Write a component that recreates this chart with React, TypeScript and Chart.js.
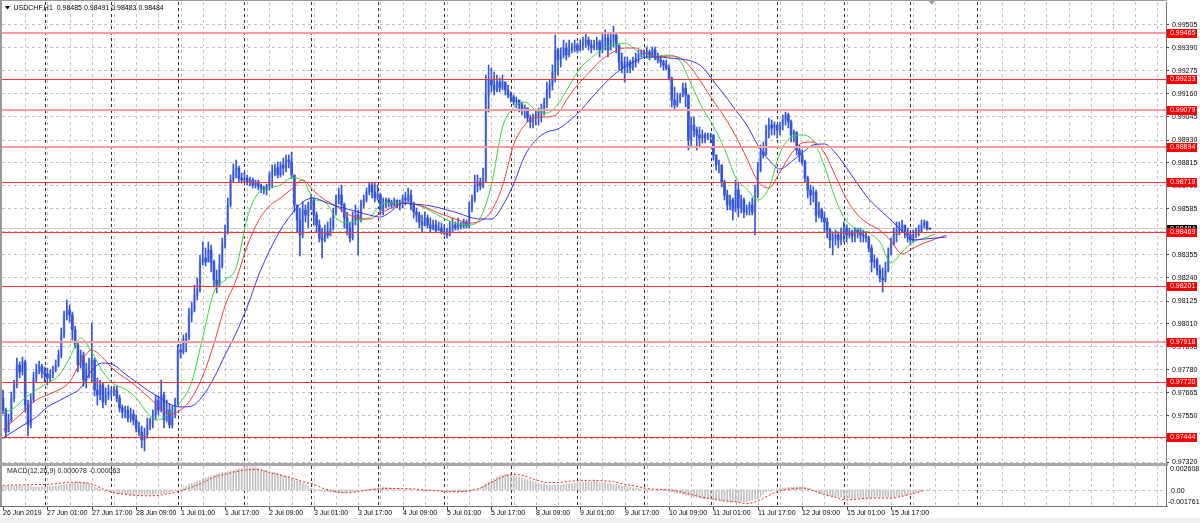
import React, { useEffect, useRef } from "react";
import { Chart, registerables } from "chart.js";

Chart.register(...registerables);

// ---------------- data ----------------
const symbolTitle = "USDCHF,H1";
const lastBarOHLC = ["0.98485", "0.98491", "0.98483", "0.98484"];
const firstOpen = 0.9764;

// hourly bars, 26 Jun 2019 09:00 -> 16 Jul 2019 07:00
const closes = [
  0.97580,0.97470,0.97530,0.97640,0.97705,0.97805,0.97770,0.97820,0.97605,0.97505,
  0.97630,0.97740,0.97780,0.97800,0.97770,0.97760,0.97740,0.97755,0.97780,0.97805,
  0.97855,0.97955,0.98055,0.98080,0.98055,0.97980,0.97905,0.97805,0.97855,0.97730,
  0.97780,0.97805,0.97830,0.97680,0.97655,0.97705,0.97620,0.97655,0.97670,0.97670,
  0.97680,0.97640,0.97590,0.97570,0.97580,0.97540,0.97560,0.97530,0.97490,0.97470,
  0.97430,0.97455,0.97505,0.97530,0.97555,0.97630,0.97580,0.97655,0.97530,0.97580,
  0.97505,0.97555,0.97605,0.97880,0.97870,0.97930,0.97940,0.98055,0.98080,0.98155,
  0.98180,0.98320,0.98340,0.98320,0.98380,0.98320,0.98230,0.98205,0.98305,0.98405,
  0.98470,0.98605,0.98730,0.98780,0.98790,0.98740,0.98730,0.98740,0.98720,0.98730,
  0.98705,0.98720,0.98700,0.98690,0.98680,0.98700,0.98755,0.98770,0.98790,0.98755,
  0.98805,0.98790,0.98830,0.98820,0.98755,0.98605,0.98530,0.98455,0.98580,0.98555,
  0.98605,0.98630,0.98555,0.98505,0.98440,0.98430,0.98470,0.98455,0.98490,0.98570,
  0.98630,0.98655,0.98605,0.98540,0.98490,0.98440,0.98530,0.98555,0.98530,0.98605,
  0.98630,0.98670,0.98705,0.98670,0.98640,0.98655,0.98580,0.98605,0.98630,0.98620,
  0.98605,0.98630,0.98605,0.98615,0.98640,0.98630,0.98655,0.98605,0.98570,0.98555,
  0.98520,0.98505,0.98540,0.98505,0.98490,0.98505,0.98480,0.98490,0.98470,0.98470,
  0.98455,0.98490,0.98505,0.98490,0.98510,0.98500,0.98520,0.98500,0.98590,0.98630,
  0.98705,0.98720,0.98700,0.98740,0.99155,0.99230,0.99205,0.99180,0.99220,0.99190,
  0.99220,0.99180,0.99155,0.99145,0.99120,0.99130,0.99105,0.99080,0.99090,0.99040,
  0.99020,0.99040,0.99055,0.99070,0.99090,0.99120,0.99180,0.99205,0.99270,0.99380,
  0.99330,0.99355,0.99390,0.99355,0.99380,0.99390,0.99405,0.99380,0.99405,0.99420,
  0.99430,0.99405,0.99390,0.99405,0.99420,0.99380,0.99430,0.99440,0.99380,0.99430,
  0.99455,0.99405,0.99320,0.99290,0.99305,0.99320,0.99290,0.99320,0.99340,0.99355,
  0.99365,0.99360,0.99370,0.99355,0.99380,0.99350,0.99330,0.99320,0.99305,0.99290,
  0.99240,0.99130,0.99105,0.99130,0.99155,0.99190,0.99155,0.98930,0.99005,0.98980,
  0.98955,0.98940,0.98955,0.98940,0.98950,0.98955,0.98855,0.98805,0.98805,0.98720,
  0.98655,0.98605,0.98630,0.98580,0.98680,0.98590,0.98630,0.98570,0.98580,0.98605,
  0.98570,0.98655,0.98780,0.98870,0.98855,0.98980,0.99005,0.98990,0.99005,0.98980,
  0.99005,0.99030,0.99055,0.99020,0.98955,0.98970,0.98880,0.98855,0.98820,0.98740,
  0.98680,0.98655,0.98670,0.98555,0.98580,0.98540,0.98520,0.98480,0.98430,0.98440,
  0.98455,0.98430,0.98470,0.98490,0.98455,0.98470,0.98450,0.98480,0.98470,0.98455,
  0.98450,0.98440,0.98390,0.98320,0.98330,0.98280,0.98240,0.98230,0.98280,0.98355,
  0.98405,0.98455,0.98480,0.98490,0.98505,0.98470,0.98455,0.98430,0.98455,0.98470,
  0.98480,0.98505,0.98520,0.98485,0.98484,
];

const highs = [
  0.97680,0.97590,0.97560,0.97670,0.97730,0.97840,0.97820,0.97845,0.97830,0.97630,
  0.97660,0.97770,0.97810,0.97825,0.97810,0.97795,0.97790,0.97780,0.97800,0.97830,
  0.97880,0.97990,0.98075,0.98130,0.98105,0.98070,0.98000,0.97920,0.97880,0.97870,
  0.97815,0.97840,0.98015,0.97840,0.97740,0.97730,0.97715,0.97690,0.97705,0.97690,
  0.97700,0.97700,0.97655,0.97605,0.97600,0.97600,0.97590,0.97580,0.97555,0.97520,
  0.97500,0.97490,0.97540,0.97540,0.97580,0.97655,0.97650,0.97730,0.97670,0.97630,
  0.97610,0.97600,0.97640,0.97905,0.97910,0.97955,0.97965,0.98090,0.98120,0.98205,
  0.98240,0.98355,0.98420,0.98390,0.98420,0.98405,0.98330,0.98280,0.98355,0.98440,
  0.98505,0.98640,0.98755,0.98810,0.98830,0.98800,0.98765,0.98770,0.98755,0.98745,
  0.98740,0.98730,0.98730,0.98710,0.98700,0.98710,0.98770,0.98805,0.98810,0.98820,
  0.98820,0.98840,0.98855,0.98855,0.98870,0.98755,0.98605,0.98590,0.98620,0.98605,
  0.98620,0.98655,0.98640,0.98570,0.98530,0.98490,0.98505,0.98520,0.98540,0.98590,
  0.98655,0.98690,0.98705,0.98615,0.98570,0.98520,0.98570,0.98605,0.98580,0.98630,
  0.98655,0.98690,0.98720,0.98720,0.98720,0.98705,0.98665,0.98640,0.98640,0.98640,
  0.98630,0.98640,0.98630,0.98630,0.98655,0.98670,0.98690,0.98680,0.98620,0.98590,
  0.98570,0.98555,0.98570,0.98555,0.98540,0.98530,0.98530,0.98520,0.98515,0.98505,
  0.98490,0.98520,0.98540,0.98520,0.98540,0.98520,0.98535,0.98530,0.98620,0.98655,
  0.98755,0.98755,0.98740,0.98790,0.99255,0.99305,0.99290,0.99270,0.99255,0.99240,
  0.99255,0.99220,0.99205,0.99170,0.99155,0.99145,0.99130,0.99120,0.99105,0.99090,
  0.99055,0.99060,0.99080,0.99090,0.99110,0.99140,0.99220,0.99230,0.99305,0.99455,
  0.99390,0.99390,0.99430,0.99415,0.99430,0.99415,0.99430,0.99415,0.99430,0.99445,
  0.99465,0.99445,0.99430,0.99430,0.99445,0.99430,0.99465,0.99480,0.99465,0.99465,
  0.99500,0.99465,0.99405,0.99365,0.99345,0.99345,0.99330,0.99345,0.99365,0.99380,
  0.99380,0.99380,0.99395,0.99380,0.99395,0.99395,0.99365,0.99345,0.99330,0.99330,
  0.99305,0.99245,0.99195,0.99165,0.99165,0.99215,0.99215,0.99155,0.99045,0.99045,
  0.98995,0.98995,0.98980,0.98965,0.98965,0.98965,0.98955,0.98855,0.98830,0.98805,
  0.98730,0.98680,0.98655,0.98640,0.98730,0.98715,0.98655,0.98640,0.98605,0.98620,
  0.98640,0.98705,0.98820,0.98905,0.98920,0.99005,0.99040,0.99030,0.99020,0.99005,
  0.99020,0.99055,0.99070,0.99065,0.99030,0.98980,0.98970,0.98905,0.98880,0.98830,
  0.98750,0.98705,0.98695,0.98680,0.98620,0.98590,0.98570,0.98540,0.98490,0.98470,
  0.98480,0.98470,0.98490,0.98520,0.98505,0.98490,0.98480,0.98490,0.98490,0.98490,
  0.98480,0.98470,0.98450,0.98405,0.98355,0.98340,0.98305,0.98290,0.98320,0.98390,
  0.98440,0.98490,0.98520,0.98520,0.98530,0.98505,0.98490,0.98470,0.98480,0.98490,
  0.98505,0.98530,0.98530,0.98525,0.98491,
];

const lows = [
  0.97560,0.97440,0.97470,0.97520,0.97620,0.97690,0.97740,0.97755,0.97570,0.97450,
  0.97490,0.97620,0.97720,0.97760,0.97740,0.97720,0.97705,0.97720,0.97740,0.97770,
  0.97795,0.97840,0.97940,0.98030,0.98020,0.97930,0.97890,0.97770,0.97790,0.97700,
  0.97690,0.97740,0.97720,0.97650,0.97605,0.97630,0.97590,0.97605,0.97630,0.97640,
  0.97650,0.97620,0.97570,0.97540,0.97540,0.97520,0.97520,0.97505,0.97470,0.97450,
  0.97390,0.97375,0.97445,0.97480,0.97490,0.97530,0.97555,0.97570,0.97490,0.97520,
  0.97490,0.97490,0.97540,0.97605,0.97840,0.97860,0.97870,0.97930,0.98020,0.98070,
  0.98130,0.98170,0.98305,0.98300,0.98320,0.98270,0.98195,0.98165,0.98195,0.98290,
  0.98390,0.98460,0.98595,0.98720,0.98740,0.98720,0.98715,0.98720,0.98705,0.98700,
  0.98690,0.98690,0.98680,0.98665,0.98660,0.98655,0.98680,0.98690,0.98750,0.98740,
  0.98745,0.98755,0.98770,0.98790,0.98740,0.98570,0.98470,0.98350,0.98440,0.98520,
  0.98490,0.98580,0.98505,0.98470,0.98420,0.98340,0.98420,0.98440,0.98450,0.98480,
  0.98555,0.98610,0.98570,0.98490,0.98455,0.98420,0.98430,0.98505,0.98355,0.98520,
  0.98590,0.98620,0.98655,0.98640,0.98620,0.98630,0.98555,0.98555,0.98590,0.98595,
  0.98590,0.98595,0.98590,0.98580,0.98590,0.98605,0.98620,0.98580,0.98540,0.98520,
  0.98490,0.98470,0.98500,0.98490,0.98470,0.98480,0.98470,0.98475,0.98460,0.98455,
  0.98440,0.98450,0.98470,0.98480,0.98480,0.98485,0.98490,0.98490,0.98490,0.98570,
  0.98620,0.98670,0.98680,0.98690,0.98720,0.99070,0.99170,0.99155,0.99170,0.99170,
  0.99180,0.99155,0.99140,0.99120,0.99105,0.99090,0.99070,0.99055,0.99040,0.99020,
  0.98990,0.98990,0.99005,0.99005,0.99020,0.99055,0.99090,0.99140,0.99180,0.99220,
  0.99255,0.99295,0.99340,0.99330,0.99345,0.99365,0.99370,0.99365,0.99375,0.99380,
  0.99395,0.99380,0.99365,0.99380,0.99380,0.99345,0.99365,0.99380,0.99345,0.99395,
  0.99395,0.99365,0.99280,0.99265,0.99220,0.99265,0.99265,0.99280,0.99295,0.99315,
  0.99345,0.99345,0.99345,0.99330,0.99345,0.99330,0.99315,0.99295,0.99280,0.99280,
  0.99230,0.99095,0.99080,0.99095,0.99115,0.99145,0.99095,0.98880,0.98895,0.98945,
  0.98880,0.98895,0.98915,0.98915,0.98930,0.98915,0.98830,0.98780,0.98765,0.98695,
  0.98630,0.98580,0.98580,0.98530,0.98570,0.98545,0.98565,0.98540,0.98555,0.98555,
  0.98555,0.98455,0.98640,0.98770,0.98840,0.98855,0.98940,0.98955,0.98955,0.98940,
  0.98955,0.98980,0.99005,0.98990,0.98920,0.98920,0.98855,0.98820,0.98805,0.98720,
  0.98640,0.98605,0.98620,0.98520,0.98540,0.98520,0.98470,0.98440,0.98390,0.98355,
  0.98405,0.98390,0.98405,0.98420,0.98420,0.98440,0.98420,0.98420,0.98440,0.98420,
  0.98420,0.98420,0.98370,0.98270,0.98290,0.98255,0.98220,0.98170,0.98220,0.98270,
  0.98355,0.98405,0.98420,0.98455,0.98470,0.98440,0.98420,0.98405,0.98420,0.98440,
  0.98450,0.98470,0.98490,0.98480,0.98483,
];

// Alligator lines, one value every 4 bars (already displaced forward)
const maStepBars = 4;
const jawBlue = [
  0.97440,0.97475,0.97510,0.97545,0.97595,0.97625,0.97655,0.97690,0.97780,0.97815,
  0.97805,0.97760,0.97720,0.97680,0.97645,0.97610,0.97595,0.97600,0.97650,0.97740,
  0.97855,0.97965,0.98095,0.98250,0.98375,0.98480,0.98560,0.98620,0.98640,0.98620,
  0.98600,0.98585,0.98570,0.98555,0.98545,0.98575,0.98615,0.98610,0.98605,0.98595,
  0.98580,0.98565,0.98545,0.98535,0.98535,0.98600,0.98710,0.98850,0.98930,0.98970,
  0.98985,0.99025,0.99075,0.99140,0.99200,0.99255,0.99295,0.99325,0.99345,0.99345,
  0.99340,0.99335,0.99325,0.99295,0.99225,0.99155,0.99080,0.99005,0.98905,0.98830,
  0.98785,0.98820,0.98865,0.98905,0.98910,0.98865,0.98790,0.98710,0.98635,0.98580,
  0.98530,0.98475,0.98430,0.98435,0.98440,0.98445,
];
const teethRed = [
  0.97480,0.97530,0.97580,0.97630,0.97655,0.97680,0.97720,0.97820,0.97880,0.97840,
  0.97780,0.97740,0.97700,0.97650,0.97600,0.97560,0.97580,0.97640,0.97750,0.97910,
  0.98100,0.98230,0.98400,0.98525,0.98600,0.98640,0.98685,0.98730,0.98675,0.98630,
  0.98600,0.98560,0.98540,0.98535,0.98565,0.98590,0.98615,0.98610,0.98595,0.98570,
  0.98550,0.98530,0.98515,0.98525,0.98575,0.98700,0.98905,0.99005,0.99045,0.99045,
  0.99065,0.99150,0.99220,0.99280,0.99335,0.99370,0.99390,0.99390,0.99360,0.99345,
  0.99350,0.99340,0.99290,0.99210,0.99125,0.99045,0.98950,0.98840,0.98725,0.98690,
  0.98770,0.98860,0.98915,0.98920,0.98865,0.98750,0.98635,0.98555,0.98510,0.98480,
  0.98425,0.98360,0.98390,0.98415,0.98435,0.98455,
];
const lipsGreen = [
  0.97565,0.97590,0.97640,0.97680,0.97715,0.97750,0.97840,0.97940,0.97870,0.97770,
  0.97710,0.97685,0.97640,0.97565,0.97530,0.97565,0.97620,0.97720,0.97945,0.98170,
  0.98230,0.98290,0.98540,0.98665,0.98690,0.98705,0.98740,0.98730,0.98635,0.98620,
  0.98540,0.98515,0.98530,0.98540,0.98605,0.98615,0.98615,0.98610,0.98590,0.98560,
  0.98530,0.98510,0.98505,0.98540,0.98705,0.98995,0.99090,0.99120,0.99080,0.99065,
  0.99110,0.99200,0.99290,0.99340,0.99385,0.99405,0.99415,0.99380,0.99340,0.99350,
  0.99355,0.99325,0.99210,0.99090,0.99000,0.98885,0.98745,0.98685,0.98630,0.98690,
  0.98865,0.98945,0.98955,0.98925,0.98800,0.98635,0.98525,0.98485,0.98465,0.98420,
  0.98315,0.98370,0.98420,0.98440,0.98460,
];

// MACD(12,26,9): main per bar (histogram), signal every 4 bars
const macdMain = [
  0.0004,0.0004,0.0004,0.0004,0.0004,0.0004,0.0004,0.0004,0.00035,0.00035,
  0.00035,0.0003,0.0003,0.0003,0.0003,0.00035,0.00035,0.0004,0.0004,0.00045,
  0.00045,0.0005,0.00055,0.0006,0.0007,0.00075,0.0008,0.0008,0.0008,0.0008,
  0.0008,0.0006,0.00045,0.0003,0.0002,0.0001,0,-0.0001,-0.00015,-0.00025,
  -0.0003,-0.00035,-0.0004,-0.0004,-0.00045,-0.00045,-0.0005,-0.0005,-0.0005,-0.0005,
  -0.0005,-0.0005,-0.0005,-0.0005,-0.0005,-0.00045,-0.00045,-0.0004,-0.0004,-0.00035,
  -0.00025,-0.0002,-0.0001,0,0.0001,0.00025,0.0004,0.0006,0.0007,0.0008,
  0.0009,0.001,0.0012,0.0013,0.0014,0.0015,0.0016,0.0017,0.0018,0.0019,
  0.0019,0.002,0.0021,0.0021,0.0022,0.0023,0.0024,0.0025,0.0025,0.0025,
  0.0025,0.0025,0.0024,0.0022,0.0021,0.0021,0.002,0.0019,0.0019,0.0018,
  0.0017,0.0016,0.0015,0.0014,0.0012,0.0011,0.001,0.0009,0.0007,0.0006,
  0.0004,0.0002,0.0001,0,-0.0001,-0.00015,-0.0002,-0.0002,-0.00025,-0.00025,
  -0.0003,-0.0003,-0.0003,-0.0003,-0.00025,-0.00025,-0.0002,-0.0002,-0.00015,-0.0001,
  0,0.00005,0.0001,0.00015,0.0002,0.0002,0.00025,0.0003,0.0003,0.00025,
  0.0002,0.0002,0.00015,0.0001,0.0001,0.00005,0.00005,0,0,0,
  -0.00005,-0.00005,-0.0001,-0.0001,-0.0001,-0.0001,-0.0001,-0.0001,-0.00015,-0.00015,
  -0.00015,-0.0002,-0.0002,-0.0002,-0.0002,-0.0002,-0.0002,-0.0002,-0.00015,-0.0001,
  -0.00005,0,0.0002,0.0004,0.0007,0.0009,0.001,0.0012,0.0014,0.0015,
  0.0016,0.0017,0.0017,0.0016,0.0016,0.0015,0.0014,0.0013,0.0012,0.0011,
  0.001,0.0009,0.0008,0.0007,0.0006,0.0006,0.0005,0.0005,0.0005,0.0005,
  0.0005,0.0005,0.0006,0.0006,0.0007,0.0007,0.0007,0.0008,0.0008,0.0008,
  0.0009,0.0009,0.0009,0.0009,0.0009,0.0008,0.0008,0.0008,0.0007,0.0007,
  0.0006,0.0006,0.0005,0.0004,0.0004,0.0003,0.00025,0.0002,0.0002,0.00015,
  0.0001,0.0001,0.00005,0.00005,0,0,0,0,-0.00005,-0.0001,
  -0.00015,-0.0002,-0.0003,-0.0004,-0.0004,-0.0005,-0.0006,-0.0006,-0.0007,-0.0008,
  -0.0008,-0.0009,-0.0009,-0.001,-0.001,-0.001,-0.0011,-0.0011,-0.0011,-0.0012,
  -0.0012,-0.0012,-0.0013,-0.0013,-0.0013,-0.0013,-0.0013,-0.0013,-0.0013,-0.0012,
  -0.0011,-0.001,-0.0009,-0.0007,-0.0005,-0.0002,-0.0001,0,0,0.0001,
  0.0002,0.0002,0.0002,0.0003,0.0003,0.0003,0.0003,0.0003,0.0003,0.0003,
  0.0002,0.0002,0,-0.0002,-0.0004,-0.0004,-0.0005,-0.0006,-0.0006,-0.0007,
  -0.0007,-0.0008,-0.0008,-0.0009,-0.0009,-0.0009,-0.0009,-0.0009,-0.0009,-0.0009,
  -0.0009,-0.0009,-0.0008,-0.0008,-0.0008,-0.0008,-0.0008,-0.0008,-0.0008,-0.0008,
  -0.0008,-0.0008,-0.0007,-0.0007,-0.0006,-0.0006,-0.0005,-0.0004,-0.0004,-0.0003,
  -0.0002,-0.0001,-0.00005,0,0.000078,
];
const macdSignal = [
  0.0005,0.00052,0.00055,0.00057,0.0006,0.0007,0.00085,0.0008,0.00065,0.0001,
  -0.0003,-0.0005,-0.0006,-0.00065,-0.0006,-0.0004,-0.0001,0.0003,0.0008,0.0014,
  0.0017,0.002,0.0022,0.00222,0.0019,0.0016,0.0013,0.0009,0.0006,0.0001,
  -0.0002,-0.0003,-0.0002,0,0.0001,0.00015,0.00015,0.0001,0,-0.0001,
  -0.0002,-0.0002,-0.0001,0.0002,0.0008,0.0014,0.0017,0.0015,0.0011,0.0008,
  0.0008,0.00095,0.001,0.00105,0.001,0.0009,0.0006,0.0004,0.00015,0.00005,
  0,-0.0002,-0.0005,-0.0008,-0.001,-0.0012,-0.0013,-0.0015,-0.0012,-0.0006,
  -0.0001,0.0001,0.0002,-0.0001,-0.0005,-0.0008,-0.0011,-0.001,-0.0009,-0.0009,
  -0.0009,-0.0007,-0.0004,-0.00006,
];
const macdTitle = "MACD(12,26,9) 0.000078 -0.000063";
const macdTop = 0.002608;
const macdBottom = -0.001761;
const macdAxisLabels = ["0.002608", "0.00", "-0.001761"];

const priceTicks = [
  0.99505, 0.9939, 0.99275, 0.9916, 0.99045, 0.9893, 0.98815, 0.987, 0.98585, 0.9847,
  0.98355, 0.9824, 0.98125, 0.9801, 0.97895, 0.9778, 0.97665, 0.9755, 0.97435, 0.9732,
];
const levelPrices = [0.99465, 0.99233, 0.99079, 0.98894, 0.98719, 0.98469, 0.98201, 0.97918, 0.9772, 0.97444];
const levelTone = ["light", "dark", "light", "light", "dark", "dark", "dark", "light", "dark", "dark"];
const bidPrice = 0.98484;

const timeLabels = [
  "26 Jun 2019", "27 Jun 01:00", "27 Jun 17:00", "28 Jun 09:00", "1 Jul 01:00", "1 Jul 17:00",
  "2 Jul 09:00", "3 Jul 01:00", "3 Jul 17:00", "4 Jul 09:00", "5 Jul 01:00", "5 Jul 17:00",
  "8 Jul 09:00", "9 Jul 01:00", "9 Jul 17:00", "10 Jul 09:00", "11 Jul 01:00", "11 Jul 17:00",
  "12 Jul 09:00", "15 Jul 01:00", "15 Jul 17:00",
];
const timeLabelEveryBars = 16;
const gridEveryBars = 8;
const firstDayStartBar = 15;
const barsPerDay = 24;
const lastDayStartBar = 351;

// ---------------- layout / style ----------------
const W = 1200;
const MAIN_H = 465;
const SUB_H = 58;
const AXIS_W = 34;
const X_MIN = -0.36;
const X_MAX = 419.1;
const Y_MIN = 0.97315;
const Y_MAX = 0.9962;
const FAMILY = '"Liberation Sans", Arial, sans-serif';
const FONT = `7px ${FAMILY}`;
const GRID = "#c4c4c4";
const SEP = "#2c2c2c";
const FRAME = "#9a9a9a";

function vGrid(ctx: any, x: any, a: any) {
  ctx.save();
  ctx.beginPath();
  ctx.rect(a.left, a.top, a.right - a.left, a.bottom - a.top);
  ctx.clip();
  ctx.lineWidth = 1;
  ctx.setLineDash([3, 3]);
  ctx.strokeStyle = GRID;
  for (let b = gridEveryBars; b <= X_MAX; b += gridEveryBars) {
    const px = Math.round(x.getPixelForValue(b)) + 0.5;
    ctx.beginPath();
    ctx.moveTo(px, a.top);
    ctx.lineTo(px, a.bottom);
    ctx.stroke();
  }
  ctx.strokeStyle = SEP;
  for (let b = firstDayStartBar; b <= lastDayStartBar; b += barsPerDay) {
    const px = Math.round(x.getPixelForValue(b)) + 0.5;
    ctx.beginPath();
    ctx.moveTo(px, a.top);
    ctx.lineTo(px, a.bottom);
    ctx.stroke();
  }
  ctx.restore();
}

const mainDecor = {
  id: "mainDecor",
  beforeDatasetsDraw(chart: any) {
    const { ctx, chartArea: a, scales } = chart;
    vGrid(ctx, scales.x, a);
    ctx.save();
    ctx.strokeStyle = "#c8c8c8";
    ctx.lineWidth = 1;
    const by = Math.round(scales.y.getPixelForValue(bidPrice)) - 0.5;
    ctx.beginPath();
    ctx.moveTo(a.left, by);
    ctx.lineTo(a.right, by);
    ctx.stroke();
    ctx.restore();
  },
  afterDatasetsDraw(chart: any) {
    const { ctx, chartArea: a, scales } = chart;
    ctx.save();
    levelPrices.forEach((p, i) => {
      const py = scales.y.getPixelForValue(p);
      if (levelTone[i] === "light") {
        ctx.strokeStyle = "#ff9d9d";
        ctx.lineWidth = 2;
        const yy = Math.round(py);
        ctx.beginPath();
        ctx.moveTo(a.left, yy);
        ctx.lineTo(a.right, yy);
        ctx.stroke();
      } else {
        ctx.strokeStyle = "#ff3030";
        ctx.lineWidth = 1;
        const yy = Math.round(py) + 0.5;
        ctx.beginPath();
        ctx.moveTo(a.left, yy);
        ctx.lineTo(a.right, yy);
        ctx.stroke();
      }
    });
    ctx.restore();
  },
  afterDraw(chart: any) {
    const { ctx, chartArea: a, scales } = chart;
    ctx.save();
    ctx.font = FONT;
    ctx.textBaseline = "middle";
    ctx.textAlign = "left";
    const box = (p: number, fill: string) => {
      const py = Math.round(scales.y.getPixelForValue(p));
      ctx.fillStyle = fill;
      ctx.fillRect(a.right + 1, py - 4, 30, 9);
      ctx.fillStyle = "#ffffff";
      ctx.fillText(p.toFixed(5), a.right + 4, py + 0.5);
    };
    box(bidPrice, "#000000");
    levelPrices.forEach((p) => box(p, "#ff0000"));

    // header
    ctx.fillStyle = "#000";
    ctx.beginPath();
    ctx.moveTo(5, 6);
    ctx.lineTo(10, 6);
    ctx.lineTo(7.5, 9.5);
    ctx.closePath();
    ctx.fill();
    ctx.fillStyle = "#000";
    ctx.fillText(`${symbolTitle}  ${lastBarOHLC.join(" ")}`, 13.5, 8);

    // shift marker
    const sx = scales.x.getPixelForValue(closes.length - 1) + 2;
    ctx.fillStyle = "#a0a0a0";
    ctx.beginPath();
    ctx.moveTo(sx - 3, 1);
    ctx.lineTo(sx + 3, 1);
    ctx.lineTo(sx, 5);
    ctx.closePath();
    ctx.fill();

    // frame
    ctx.fillStyle = FRAME;
    ctx.fillRect(0, 0, 2, MAIN_H);
    ctx.fillRect(0, 0, a.right + 1, 1);
    ctx.fillStyle = "#a8a8a8";
    ctx.fillRect(0, a.bottom, a.right + 2, MAIN_H - a.bottom);
    ctx.restore();
  },
};

const subDecor = {
  id: "subDecor",
  beforeDatasetsDraw(chart: any) {
    const { ctx, chartArea: a, scales } = chart;
    vGrid(ctx, scales.x, a);
    ctx.save();
    ctx.setLineDash([3, 3]);
    ctx.strokeStyle = GRID;
    ctx.lineWidth = 1;
    const zy = Math.round(scales.y.getPixelForValue(0)) + 0.5;
    ctx.beginPath();
    ctx.moveTo(a.left, zy);
    ctx.lineTo(a.right, zy);
    ctx.stroke();
    ctx.restore();
  },
  afterDraw(chart: any) {
    const { ctx, chartArea: a, scales } = chart;
    ctx.save();
    ctx.font = FONT;
    ctx.textBaseline = "middle";
    ctx.textAlign = "left";
    ctx.fillStyle = "#202020";
    ctx.fillText(macdTitle, 7, 6);

    // axis labels (top, zero, bottom)
    ctx.fillStyle = "#000";
    ctx.fillText(macdAxisLabels[0], a.right + 4, a.top + 3.5);
    ctx.fillText(macdAxisLabels[1], a.right + 5, scales.y.getPixelForValue(0) + 1);
    ctx.fillText(macdAxisLabels[2], a.right + 2, a.bottom - 3.5);

    // frame
    ctx.fillStyle = "#a8a8a8";
    ctx.fillRect(0, 0, a.right + 2, 1);
    ctx.fillStyle = FRAME;
    ctx.fillRect(0, 0, 2, a.bottom + 1);
    ctx.fillStyle = "#707070";
    ctx.fillRect(0, a.bottom, a.right + 2, 1);
    ctx.fillRect(a.right, 0, 1, a.bottom + 1);

    // time axis
    ctx.fillStyle = "#000";
    ctx.strokeStyle = "#404040";
    ctx.lineWidth = 1;
    timeLabels.forEach((t, i) => {
      const px = Math.round(scales.x.getPixelForValue(i * timeLabelEveryBars));
      ctx.beginPath();
      ctx.moveTo(px + 0.5, a.bottom + 1);
      ctx.lineTo(px + 0.5, a.bottom + 4);
      ctx.stroke();
      ctx.fillText(t, px, a.bottom + 7.5);
    });

    ctx.fillStyle = "#f0f0f0";
    ctx.fillRect(0, SUB_H - 5, W, 5);
    ctx.restore();
  },
};

export default function App() {
  const mainRef = useRef<HTMLCanvasElement | null>(null);
  const subRef = useRef<HTMLCanvasElement | null>(null);

  useEffect(() => {
    const opens = closes.map((c, i) => (i === 0 ? firstOpen : closes[i - 1]));
    const bull = (i: number) => closes[i] >= opens[i];
    const lineDs = (vals: number[], color: string) => ({
      type: "line",
      data: vals.map((v, k) => ({ x: k * maStepBars, y: v })),
      borderColor: color,
      borderWidth: 1,
      pointRadius: 0,
      cubicInterpolationMode: "monotone",
      order: 0,
    });

    const main = new Chart(mainRef.current as any, {
      type: "bar",
      data: {
        datasets: [
          lineDs(jawBlue, "#3434f2"),
          lineDs(teethRed, "#f03c3c"),
          lineDs(lipsGreen, "#34d834"),
          {
            type: "bar",
            data: lows.map((l, i) => ({
              x: i,
              y: [Math.min(l, opens[i], closes[i]), Math.max(highs[i], opens[i], closes[i])],
            })),
            backgroundColor: "#3556d8",
            grouped: false,
            barPercentage: 1,
            categoryPercentage: 1,
            maxBarThickness: 1,
            order: 5,
          },
          {
            type: "bar",
            data: closes.map((c, i) => ({ x: i, y: [opens[i], c] })),
            backgroundColor: (ctx: any) => (bull(ctx.dataIndex) ? "#a9b8ef" : "#3556d8"),
            grouped: false,
            barPercentage: 1,
            categoryPercentage: 1,
            maxBarThickness: 2,
            minBarLength: 1,
            order: 6,
          },
        ] as any,
      },
      options: {
        responsive: false,
        animation: false,
        events: [],
        layout: { padding: { left: 2, top: 2, right: 0, bottom: 2 } },
        plugins: { legend: { display: false }, tooltip: { enabled: false } },
        scales: {
          x: { type: "linear", min: X_MIN, max: X_MAX, display: false, offset: false },
          y: {
            type: "linear",
            position: "right",
            min: Y_MIN,
            max: Y_MAX,
            afterBuildTicks: (s: any) => {
              s.ticks = priceTicks.map((v) => ({ value: v }));
            },
            afterFit: (s: any) => {
              s.width = AXIS_W;
              s.paddingTop = 0;
              s.paddingBottom = 0;
            },
            ticks: {
              callback: (v: any) => Number(v).toFixed(5),
              font: { family: FAMILY, size: 7 },
              color: "#000",
              padding: 3,
              autoSkip: false,
              maxRotation: 0,
            },
            grid: { color: GRID, tickColor: "#404040", tickLength: 3, lineWidth: 1 },
            border: { display: true, color: "#707070", width: 1, dash: [3, 3] },
          },
        },
      } as any,
      plugins: [mainDecor],
    });

    const sub = new Chart(subRef.current as any, {
      type: "bar",
      data: {
        datasets: [
          {
            type: "line",
            data: macdSignal.map((v, k) => ({ x: k * maStepBars, y: v })),
            borderColor: "#ff2020",
            borderWidth: 1,
            borderDash: [2, 2],
            pointRadius: 0,
            cubicInterpolationMode: "monotone",
            order: 0,
          },
          {
            type: "bar",
            data: macdMain.map((v, i) => ({ x: i, y: v })),
            backgroundColor: "#c0c0c0",
            grouped: false,
            barPercentage: 1,
            categoryPercentage: 1,
            maxBarThickness: 1,
            order: 5,
          },
        ] as any,
      },
      options: {
        responsive: false,
        animation: false,
        events: [],
        layout: { padding: { left: 2, top: 1, right: 0, bottom: 17 } },
        plugins: { legend: { display: false }, tooltip: { enabled: false } },
        scales: {
          x: { type: "linear", min: X_MIN, max: X_MAX, display: false, offset: false },
          y: {
            type: "linear",
            position: "right",
            min: macdBottom,
            max: macdTop,
            afterFit: (s: any) => {
              s.width = AXIS_W;
              s.paddingTop = 0;
              s.paddingBottom = 0;
            },
            ticks: { display: false },
            grid: { display: false, drawTicks: false },
            border: { display: false },
          },
        },
      } as any,
      plugins: [subDecor],
    });

    return () => {
      main.destroy();
      sub.destroy();
    };
  }, []);

  return (
    <div
      style={{
        position: "fixed",
        left: 0,
        top: 0,
        width: W,
        height: MAIN_H + SUB_H,
        background: "#ffffff",
        overflow: "hidden",
      }}
    >
      <canvas
        ref={mainRef}
        width={W}
        height={MAIN_H}
        style={{ position: "absolute", left: 0, top: 0, width: W, height: MAIN_H }}
      />
      <canvas
        ref={subRef}
        width={W}
        height={SUB_H}
        style={{ position: "absolute", left: 0, top: MAIN_H, width: W, height: SUB_H }}
      />
    </div>
  );
}
